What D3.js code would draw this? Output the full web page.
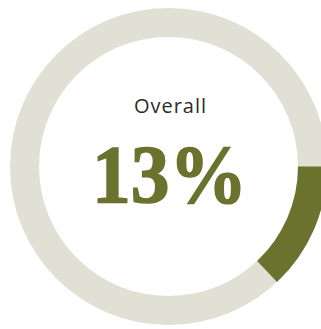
<!DOCTYPE html>
<html>
<head>
<meta charset="utf-8">
<script src="https://cdn.jsdelivr.net/npm/d3@7"></script>
<style>
  html, body { margin: 0; padding: 0; background: #ffffff; }
  svg { display: block; }
</style>
</head>
<body>
<div id="chart"></div>
<script>
  // share of the whole that is highlighted
  const shareValue = [0.13];
  const shareLabel = ["Overall"];
  const valueText = ["13%"];

  const width = 321;
  const height = 329;
  const cx = 168.5;
  const cy = 166.5;
  const outerR = 158.5;
  const innerR = 129.5;

  const svg = d3.select("#chart").append("svg").attr("width", width).attr("height", height);
  const g = svg.append("g").attr("transform", `translate(${cx},${cy})`);

  // ring starts at 3 o'clock and runs clockwise
  const angle = d3.scaleLinear().domain([0, 1]).range([Math.PI / 2, Math.PI / 2 + 2 * Math.PI]);
  const arc = d3.arc().innerRadius(innerR).outerRadius(outerR);

  g.append("path")
    .attr("d", arc({ startAngle: angle(0), endAngle: angle(1) }))
    .attr("fill", "#e0e0d5");

  g.append("path")
    .attr("d", arc({ startAngle: angle(0), endAngle: angle(shareValue[0]) }))
    .attr("fill", "#6b722d");

  svg.append("text")
    .attr("x", 134)
    .attr("y", 113)
    .attr("textLength", 72)
    .attr("lengthAdjust", "spacing")
    .attr("font-family", "'Open Sans', sans-serif")
    .attr("font-size", "20px")
    .attr("fill", "#2b2b2b")
    .text(shareLabel[0]);

  svg.append("text")
    .attr("x", 92)
    .attr("y", 202)
    .attr("textLength", 155)
    .attr("lengthAdjust", "spacingAndGlyphs")
    .attr("font-family", "'Liberation Serif', 'DejaVu Serif', serif")
    .attr("font-weight", 700)
    .attr("font-size", "82px")
    .attr("fill", "#6b722d")
    .attr("stroke", "#6b722d")
    .attr("stroke-width", 1.5)
    .text(valueText[0]);
</script>
</body>
</html>
